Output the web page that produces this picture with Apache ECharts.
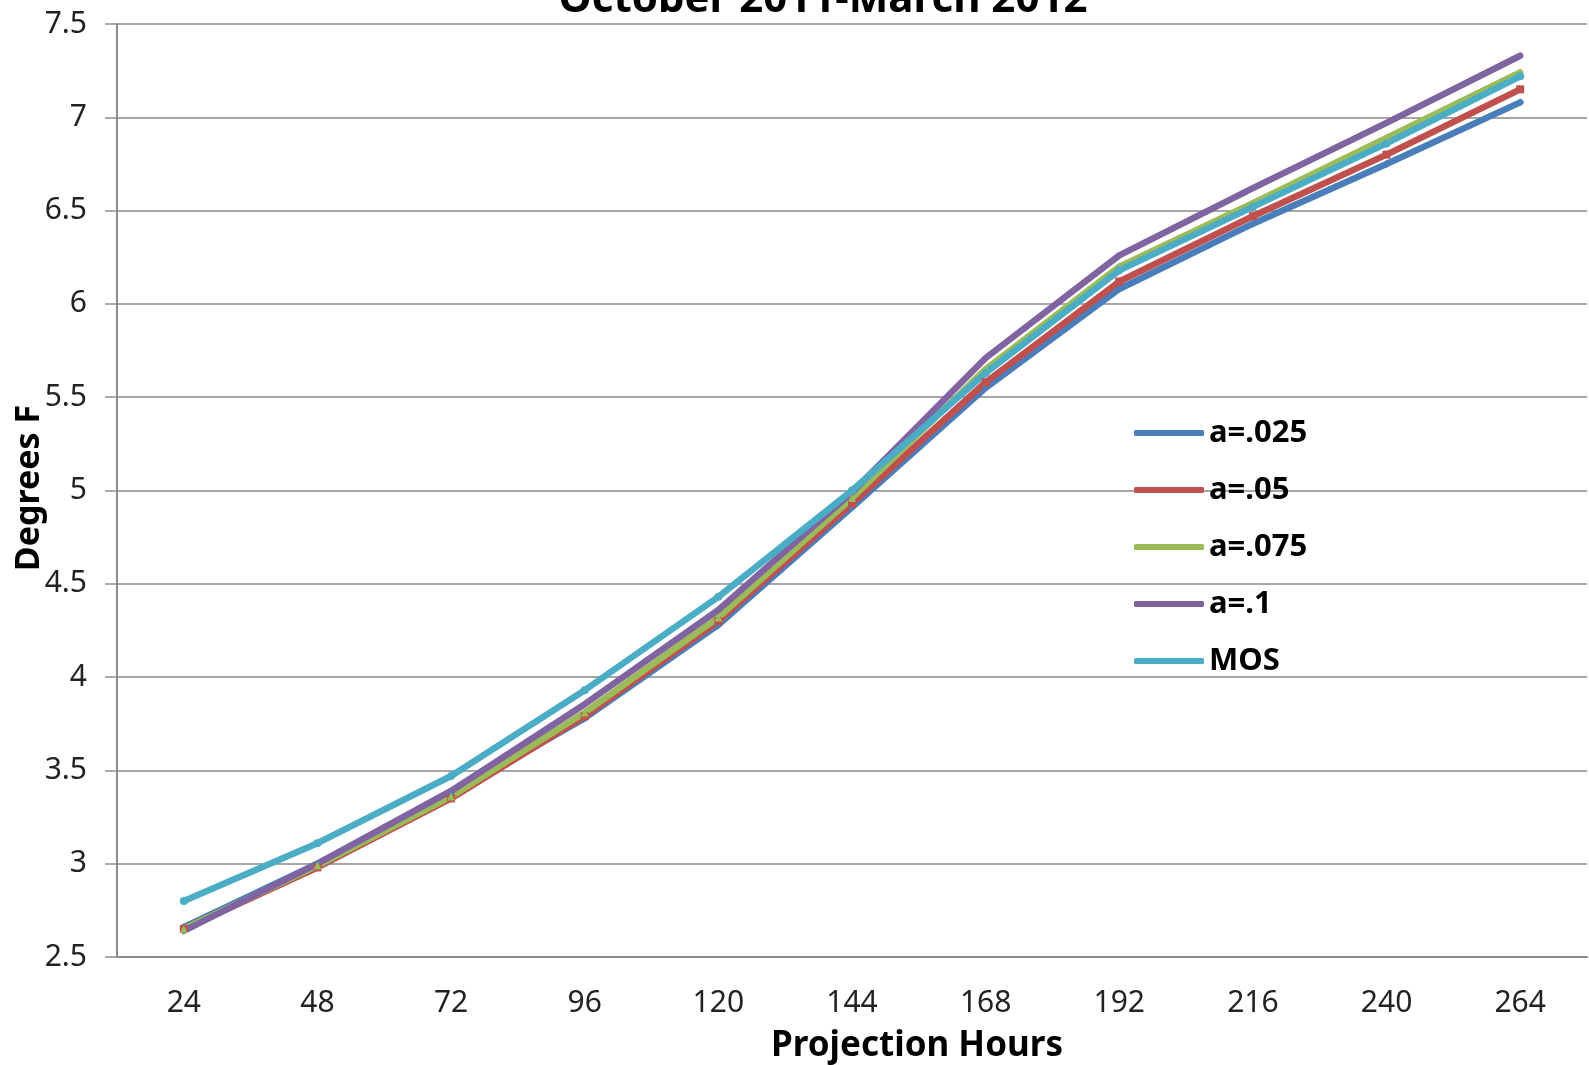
<!DOCTYPE html>
<html>
<head>
<meta charset="utf-8">
<script src="https://cdn.jsdelivr.net/npm/echarts@6/dist/echarts.min.js"></script>
<style>
html,body{margin:0;padding:0;background:#fff;}
#chart{width:1589px;height:1065px;}
</style>
</head>
<body>
<div id="chart"></div>
<script>
var categories = ['24','48','72','96','120','144','168','192','216','240','264'];
var a025 = [2.66, 3.00, 3.37, 3.78, 4.28, 4.91, 5.55, 6.08, 6.43, 6.75, 7.08];
var a05  = [2.65, 2.98, 3.35, 3.79, 4.30, 4.93, 5.58, 6.12, 6.47, 6.80, 7.15];
var a075 = [2.65, 2.99, 3.36, 3.81, 4.32, 4.96, 5.65, 6.20, 6.54, 6.89, 7.24];
var a1   = [2.64, 3.00, 3.39, 3.855, 4.36, 4.99, 5.71, 6.26, 6.62, 6.97, 7.33];
var mos  = [2.80, 3.11, 3.47, 3.93, 4.43, 5.00, 5.63, 6.18, 6.52, 6.86, 7.22];
var seriesNames = ['a=.025','a=.05','a=.075','a=.1','MOS'];
var titleText = 'October 2011-March 2012';
var xTitle = 'Projection Hours';
var yTitle = 'Degrees F';

var colors = ['#4A7EBB','#C0504D','#9BBB59','#8064A2','#4BACC6'];
var symbols = ['diamond','rect','triangle','path://M0,0L10,10M10,0L0,10','circle'];
var dataSets = [a025, a05, a075, a1, mos];

var chart = echarts.init(document.getElementById('chart'));
var series = dataSets.map(function(d, i){
  return {
    name: seriesNames[i],
    type: 'line',
    data: d,
    symbol: symbols[i],
    symbolSize: 8,
    lineStyle: {width: 6.5, color: colors[i], cap: 'round', join: 'round'},
    itemStyle: {color: colors[i]},
    emphasis: {disabled: true},
    animation: false
  };
});

chart.setOption({
  animation: false,
  color: colors,
  title: {
    text: titleText,
    left: 818, top: -26, textAlign: 'center',
    textStyle: {fontFamily: 'Noto Sans', fontWeight: 'bold', fontSize: 42, color: '#000'}
  },
  grid: {left: 117, right: 2, top: 24, bottom: 108, containLabel: false, outerBoundsMode: 'none'},
  legend: {
    orient: 'vertical',
    left: 1129, top: 412,
    itemWidth: 70, itemHeight: 6,
    itemGap: 25,
    icon: 'roundRect',
    data: seriesNames,
    textStyle: {fontFamily: 'Noto Sans', fontWeight: 'bold', fontSize: 31, color: '#000', lineHeight: 32}
  },
  graphic: [
    {type: 'text', id: 'xt', x: 917, y: 1046, silent: true,
     style: {text: xTitle, fontFamily: 'Noto Sans', fontWeight: 'bold', fontSize: 35, fill: '#000',
             align: 'center', verticalAlign: 'middle'}},
    {type: 'text', id: 'yt', x: 29, y: 488, rotation: Math.PI / 2, silent: true,
     style: {text: yTitle, fontFamily: 'Noto Sans', fontWeight: 'bold', fontSize: 34, fill: '#000',
             align: 'center', verticalAlign: 'middle'}}
  ],
  xAxis: {
    type: 'category',
    data: categories,
    boundaryGap: true,
    axisLine: {lineStyle: {color: '#8c8c8c', width: 2}},
    axisTick: {show: false},
    axisLabel: {fontFamily: 'Noto Sans', fontSize: 30, color: '#222', margin: 31}
  },
  yAxis: {
    type: 'value',
    min: 2.5, max: 7.5, interval: 0.5,
    axisLine: {show: true, lineStyle: {color: '#8c8c8c', width: 2}},
    axisTick: {show: true, length: 12, lineStyle: {color: '#8c8c8c', width: 1.5}},
    axisLabel: {fontFamily: 'Noto Sans', fontSize: 30, color: '#222', margin: 30},
    splitLine: {show: true, lineStyle: {color: '#a6a6a6', width: 2}}
  },
  series: series
});
</script>
</body>
</html>
